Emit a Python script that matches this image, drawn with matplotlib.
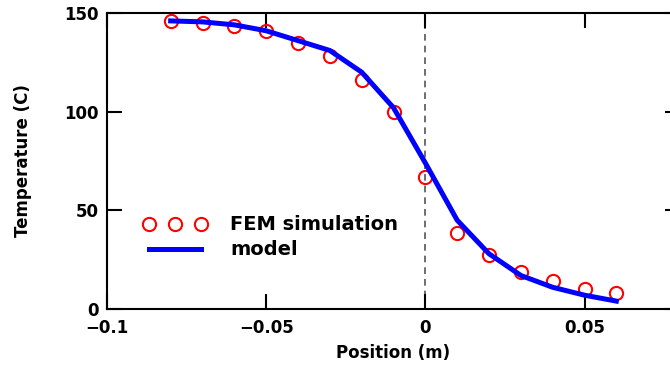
import matplotlib
matplotlib.use("Agg")
import matplotlib.pyplot as plt

plt.rcParams['font.family'] = ['DejaVu Sans']
plt.rcParams['font.weight'] = 'bold'
plt.rcParams['axes.unicode_minus'] = True

fem_x = [-0.08, -0.07, -0.06, -0.05, -0.04, -0.03, -0.02, -0.01, 0.0, 0.01, 0.02, 0.03, 0.04, 0.05, 0.06]
fem_T = [146, 145, 143.5, 141, 135, 128, 116, 100, 67, 38.5, 27.5, 19, 14, 10.3, 8]
model_x = [-0.08, -0.07, -0.06, -0.05, -0.04, -0.03, -0.02, -0.01, 0.0, 0.01, 0.02, 0.03, 0.04, 0.05, 0.06]
model_T = [146, 145.5, 144, 141, 136, 131, 120, 102, 74, 45, 28, 17, 11, 7, 4]
xticks = [-0.1, -0.05, 0, 0.05]
xticklabels = ['\u22120.1', '\u22120.05', '0', '0.05']
yticks = [0, 50, 100, 150]

fig = plt.figure(figsize=(6.7, 3.68), dpi=100)
ax = fig.add_axes([107/670, 1-309/368, 573/670, (309-13)/368])

ax.axvline(0, color='#555555', lw=1.2, ls=(0, (4, 3)), zorder=1)
ax.plot(fem_x, fem_T, 'o', mfc='none', mec='red', ms=9.5, mew=1.5, label='FEM simulation', zorder=2)
ax.plot(model_x, model_T, '-', color='#0000ff', lw=3.6, label='model', zorder=3)

ax.set_xlim(-0.1, 0.08)
ax.set_ylim(0, 150)
ax.set_xticks(xticks)
ax.set_xticklabels(xticklabels)
ax.set_yticks(yticks)
ax.tick_params(direction='in', length=11, width=1.5, top=True, right=True,
               labelsize=12)
ax.tick_params(axis='x', pad=7.5)
ax.tick_params(axis='y', pad=6)
for s in ax.spines.values():
    s.set_linewidth(1.5)
ax.set_xlabel('Position (m)', fontsize=12, fontweight='bold', labelpad=4.5)
ax.set_ylabel('Temperature (C)', fontsize=12, fontweight='bold', labelpad=23)

leg = ax.legend(loc='upper left', bbox_to_anchor=(125.5/670, 1-198/368), bbox_transform=fig.transFigure,
                frameon=False, numpoints=3, handlelength=3.3, fontsize=14, labelspacing=0.3,
                handletextpad=1.2)

fig.savefig('out.png', dpi=100)
